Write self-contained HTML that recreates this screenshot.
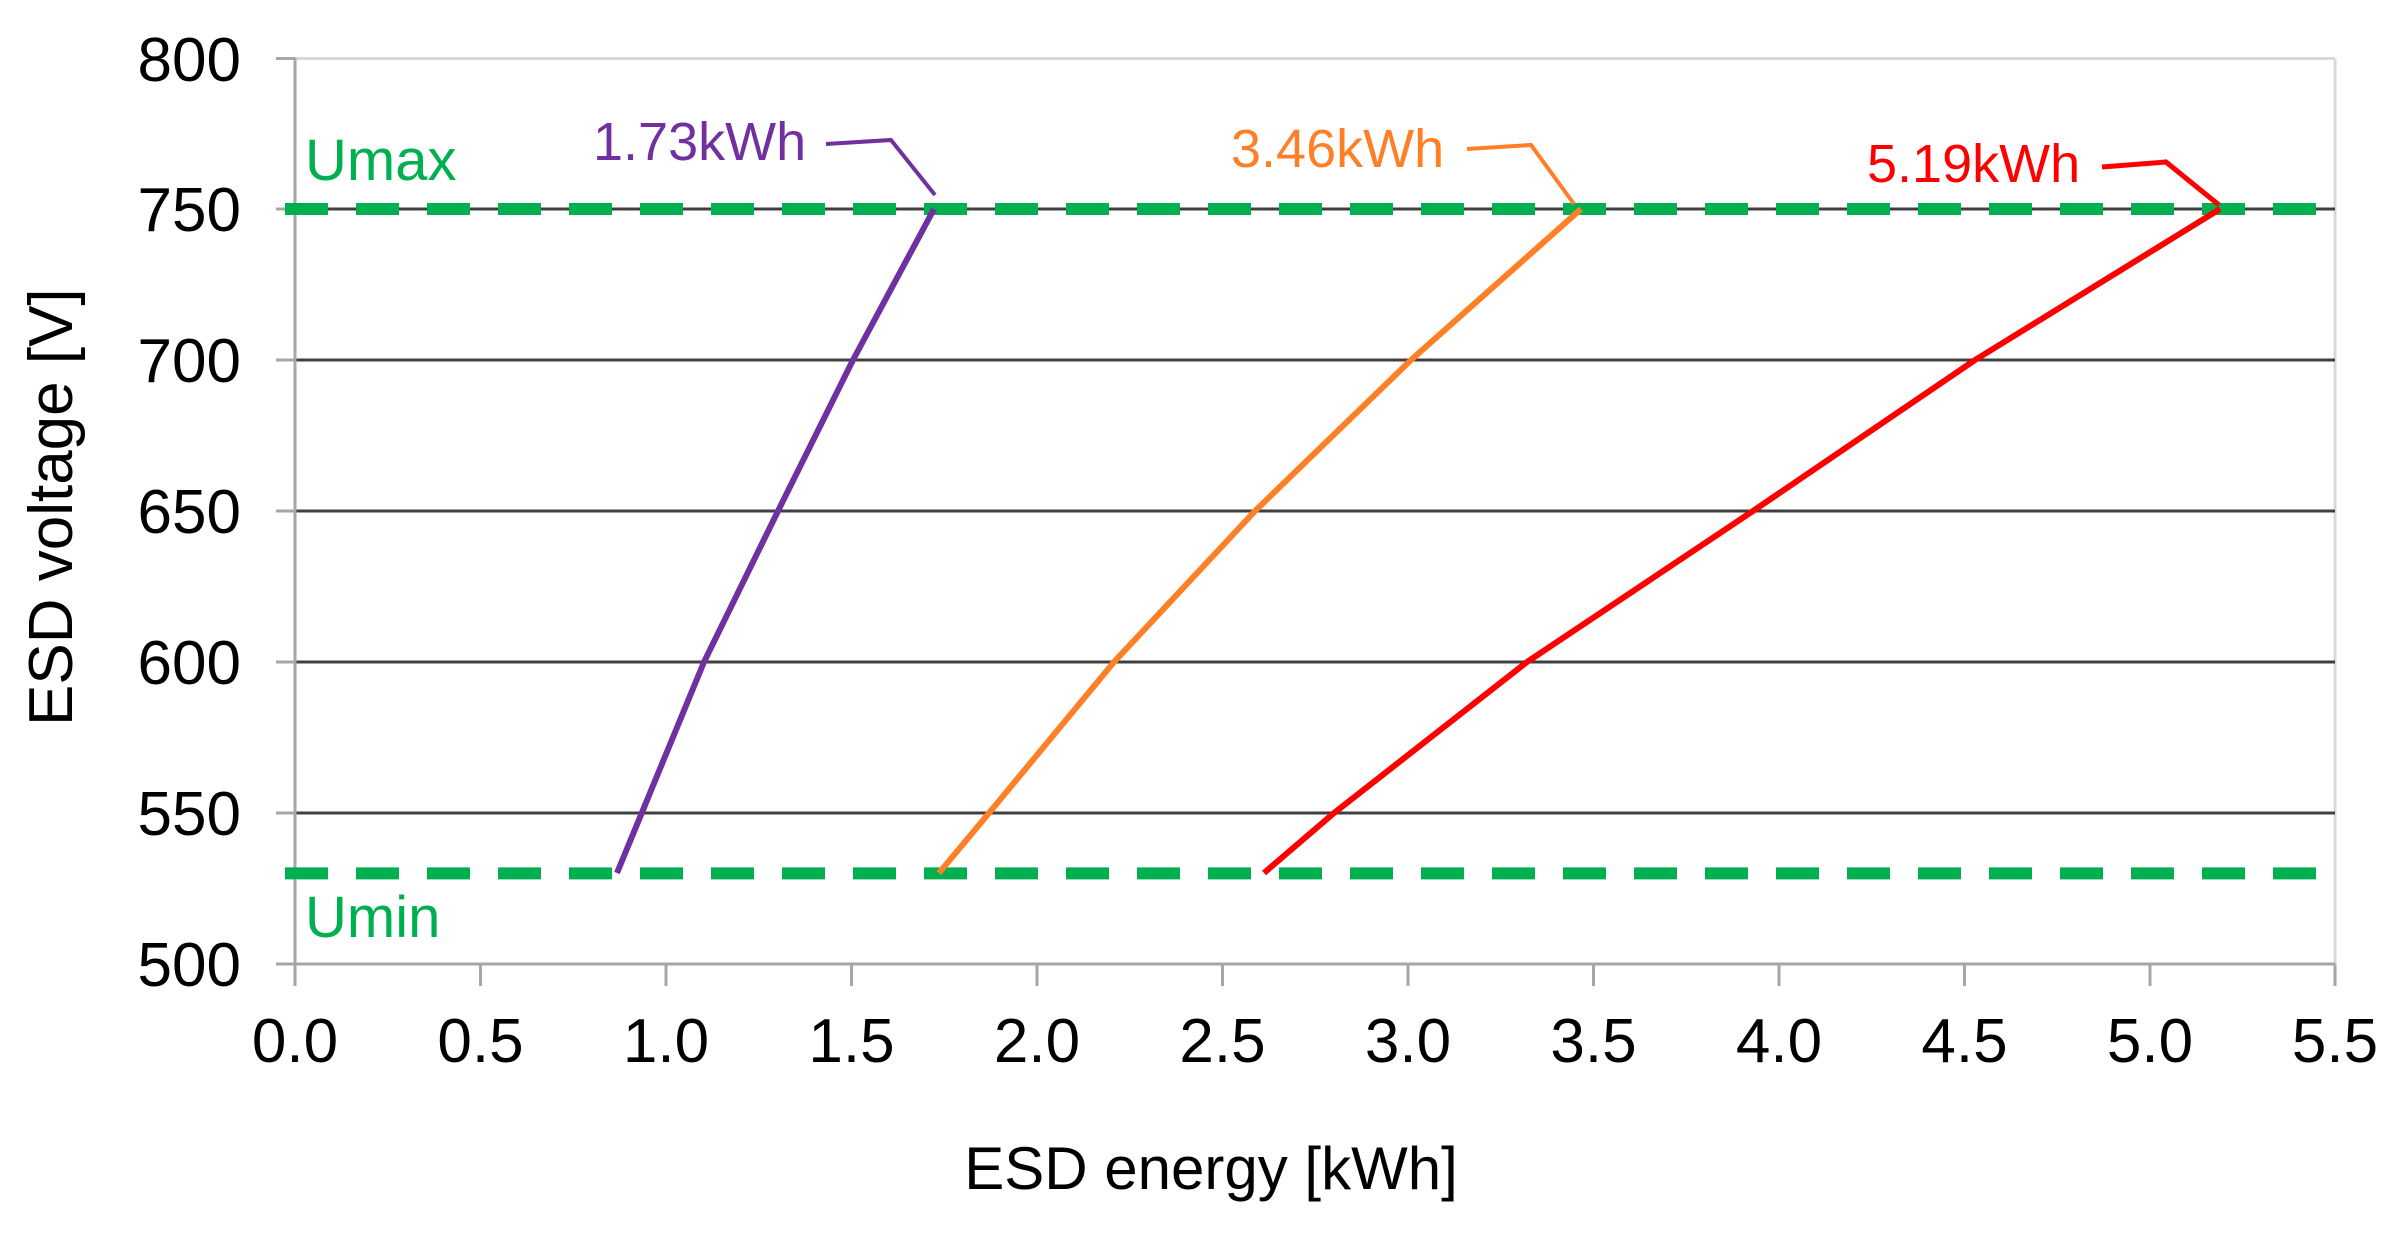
<!DOCTYPE html>
<html><head><meta charset="utf-8"><style>
html,body{margin:0;padding:0;background:#fff;}
svg{display:block;}
text{font-family:"Liberation Sans",Arial,sans-serif;}
</style></head><body>
<svg width="2404" height="1236" viewBox="0 0 2404 1236" xmlns="http://www.w3.org/2000/svg">
<rect width="2404" height="1236" fill="#fff"/>
<line x1="295" y1="58.5" x2="2335" y2="58.5" stroke="#d9d9d9" stroke-width="3"/>
<line x1="2335" y1="58.5" x2="2335" y2="964" stroke="#d9d9d9" stroke-width="3"/>
<g stroke="#404040" stroke-width="3">
<line x1="295" y1="209" x2="2335" y2="209"/>
<line x1="295" y1="360" x2="2335" y2="360"/>
<line x1="295" y1="511" x2="2335" y2="511"/>
<line x1="295" y1="662" x2="2335" y2="662"/>
<line x1="295" y1="813" x2="2335" y2="813"/>
</g>
<g stroke="#a6a6a6" stroke-width="3">
<line x1="295" y1="58" x2="295" y2="965"/>
<line x1="295" y1="964" x2="2335" y2="964"/>
<line x1="276" y1="58.5" x2="295" y2="58.5"/>
<line x1="276" y1="209" x2="295" y2="209"/>
<line x1="276" y1="360" x2="295" y2="360"/>
<line x1="276" y1="511" x2="295" y2="511"/>
<line x1="276" y1="662" x2="295" y2="662"/>
<line x1="276" y1="813" x2="295" y2="813"/>
<line x1="276" y1="964" x2="295" y2="964"/>
<line x1="295" y1="964" x2="295" y2="986"/>
<line x1="480.5" y1="964" x2="480.5" y2="986"/>
<line x1="666" y1="964" x2="666" y2="986"/>
<line x1="851.5" y1="964" x2="851.5" y2="986"/>
<line x1="1037" y1="964" x2="1037" y2="986"/>
<line x1="1222.5" y1="964" x2="1222.5" y2="986"/>
<line x1="1408" y1="964" x2="1408" y2="986"/>
<line x1="1593.5" y1="964" x2="1593.5" y2="986"/>
<line x1="1779" y1="964" x2="1779" y2="986"/>
<line x1="1964.5" y1="964" x2="1964.5" y2="986"/>
<line x1="2150" y1="964" x2="2150" y2="986"/>
<line x1="2335" y1="964" x2="2335" y2="986"/>
</g>
<g font-size="62" fill="#000" text-anchor="end">
<text x="241" y="81">800</text>
<text x="241" y="231">750</text>
<text x="241" y="382">700</text>
<text x="241" y="533">650</text>
<text x="241" y="684">600</text>
<text x="241" y="835">550</text>
<text x="241" y="986">500</text>
</g>
<g font-size="62" fill="#000" text-anchor="middle">
<text x="295" y="1062">0.0</text>
<text x="480.5" y="1062">0.5</text>
<text x="666" y="1062">1.0</text>
<text x="851.5" y="1062">1.5</text>
<text x="1037" y="1062">2.0</text>
<text x="1222.5" y="1062">2.5</text>
<text x="1408" y="1062">3.0</text>
<text x="1593.5" y="1062">3.5</text>
<text x="1779" y="1062">4.0</text>
<text x="1964.5" y="1062">4.5</text>
<text x="2150" y="1062">5.0</text>
<text x="2335" y="1062">5.5</text>
</g>
<text x="1211" y="1189" font-size="60" text-anchor="middle" fill="#000">ESD energy [kWh]</text>
<text transform="translate(72,726) rotate(-90)" font-size="62" fill="#000">ESD voltage [V]</text>
<g stroke="#00b050" stroke-width="12" stroke-dasharray="43 28">
<line x1="285" y1="209" x2="2335" y2="209"/>
<line x1="285" y1="873.4" x2="2335" y2="873.4"/>
</g>
<text x="305" y="180" font-size="58" fill="#00b050">Umax</text>
<text x="305" y="937" font-size="58" fill="#00b050">Umin</text>
<g fill="none" stroke-width="6" stroke-linejoin="round">
<polyline stroke="#7030a0" points="617,873 704,662 778,511 853,360 934,209"/>
<polyline stroke="#ff7f27" points="939,873 989,813 1114,662 1255,511 1411,360 1581,209"/>
<polyline stroke="#ff0000" points="1264,873 1334,813 1527,662 1753,511 1975,360 2220,209"/>
</g>
<text x="593" y="160" font-size="54" fill="#7030a0">1.73kWh</text>
<polyline points="826,144 891,140 935,195" fill="none" stroke="#7030a0" stroke-width="4"/>
<text x="1231" y="167" font-size="54" fill="#ff7f27">3.46kWh</text>
<polyline points="1467,149 1531,145 1574,204" fill="none" stroke="#ff7f27" stroke-width="4"/>
<text x="1867" y="182" font-size="54" fill="#ff0000">5.19kWh</text>
<polyline points="2102,167 2166,162 2219,205" fill="none" stroke="#ff0000" stroke-width="5"/>
</svg>
</body></html>
